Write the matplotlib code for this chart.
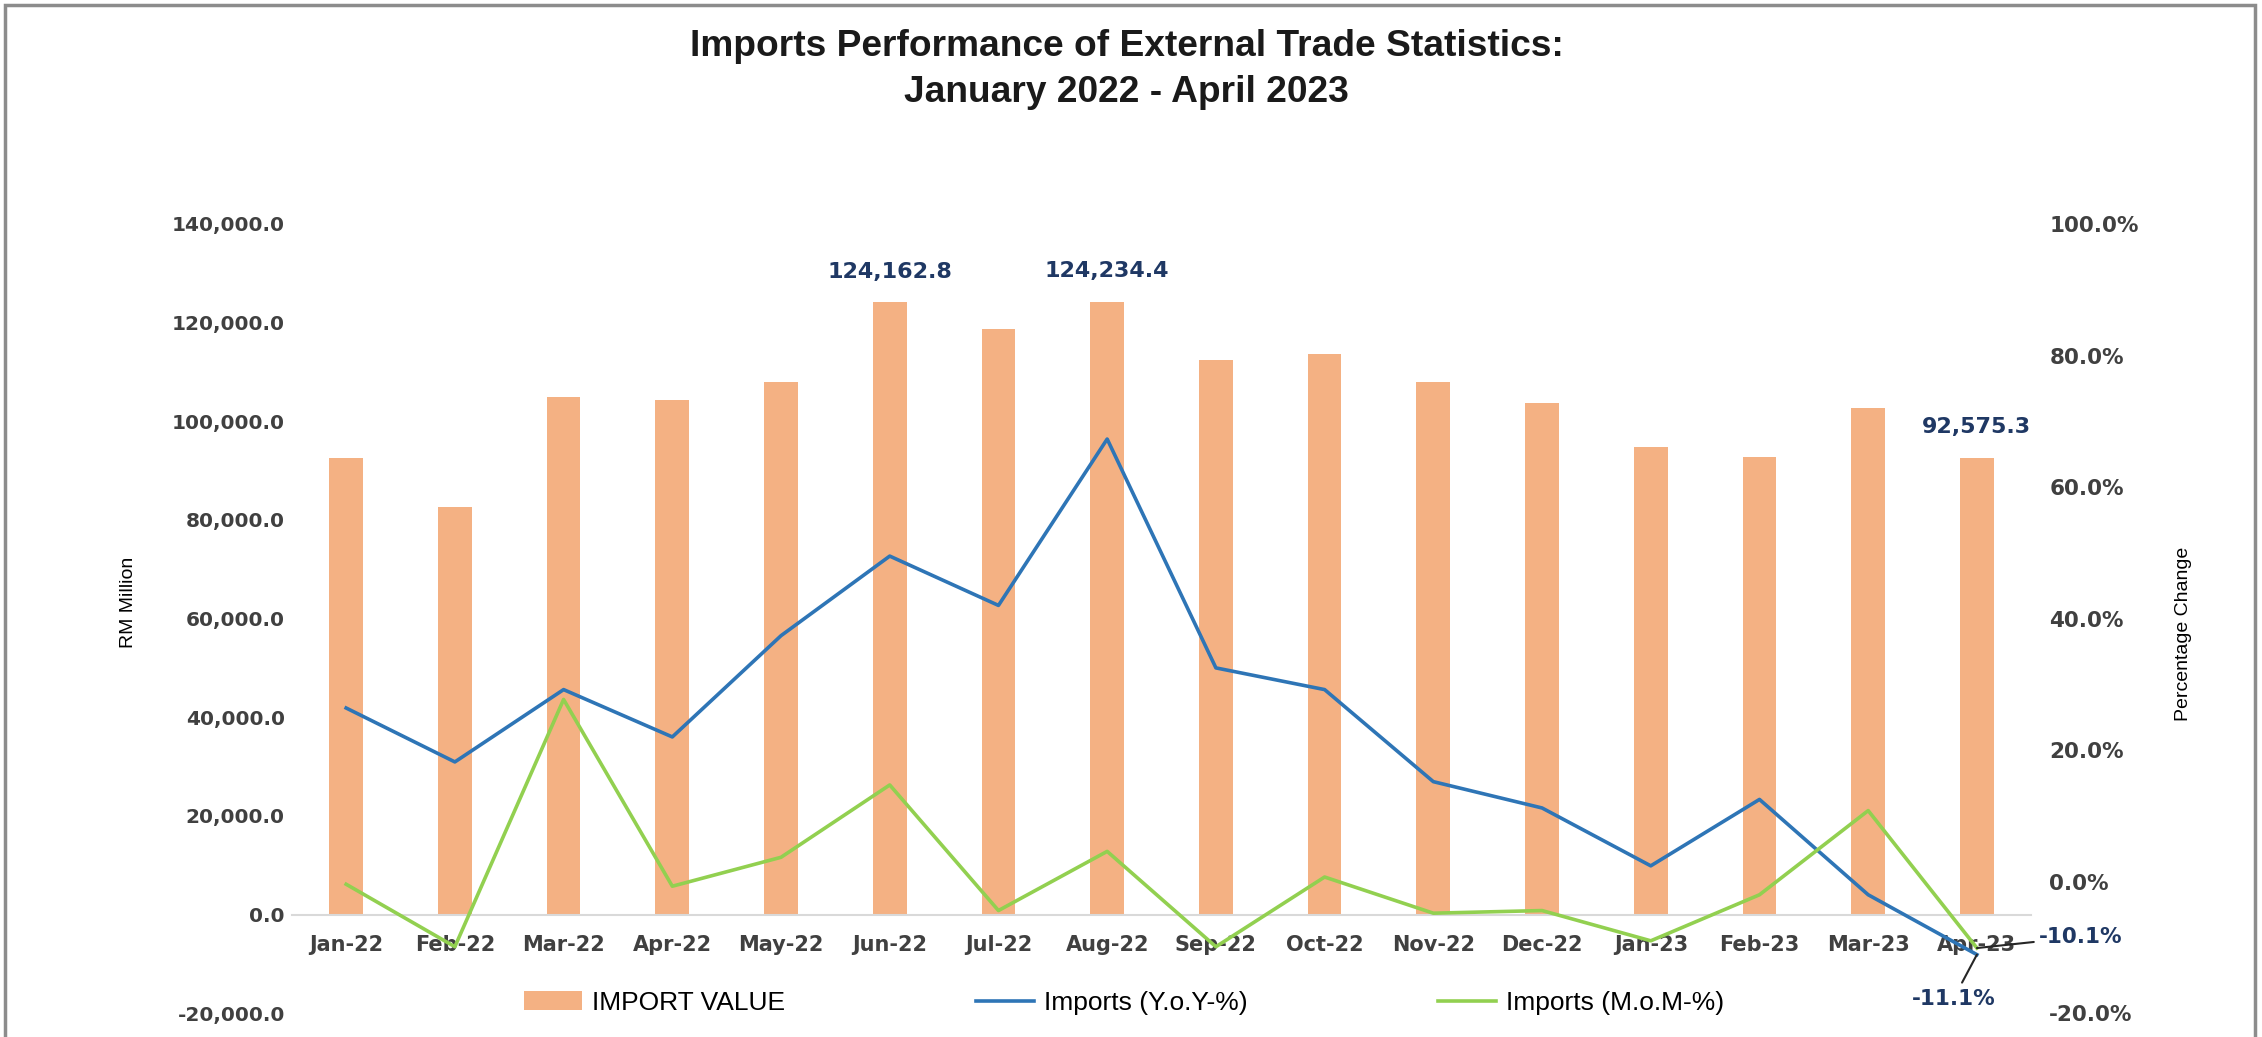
import matplotlib
matplotlib.use("Agg")
import matplotlib.pyplot as plt
from matplotlib.patches import Rectangle
from matplotlib.ticker import FuncFormatter, MultipleLocator

# data
months = ['Jan-22', 'Feb-22', 'Mar-22', 'Apr-22', 'May-22', 'Jun-22', 'Jul-22', 'Aug-22',
          'Sep-22', 'Oct-22', 'Nov-22', 'Dec-22', 'Jan-23', 'Feb-23', 'Mar-23', 'Apr-23']
import_value = [92600.0, 82700.0, 104900.0, 104300.0, 107900.0, 124162.8, 118700.0, 124234.4,
                112500.0, 113700.0, 107900.0, 103800.0, 94700.0, 92700.0, 102600.0, 92575.3]
yoy_pct = [26.4, 18.2, 29.2, 22.0, 37.4, 49.5, 42.0, 67.3,
           32.5, 29.2, 15.2, 11.2, 2.4, 12.5, -2.0, -11.1]
mom_pct = [-0.4, -9.9, 27.7, -0.7, 3.7, 14.7, -4.4, 4.6,
           -9.9, 0.7, -4.8, -4.4, -9.0, -2.0, 10.8, -10.1]
labelled_bars = ['Jun-22', 'Aug-22', 'Apr-23']

BAR = '#F4B183'
BLUE = '#2E75B6'
GREEN = '#92D050'
NAVY = '#1F3864'
TXT = '#404040'
SANS = ['Liberation Sans', 'DejaVu Sans']

fig = plt.figure(figsize=(22.62, 10.37), dpi=100)
ax = fig.add_axes([0.129, 0.023, 0.769, 0.761])
ax2 = ax.twinx()

x = list(range(len(months)))
ax.bar(x, import_value, width=0.31, color=BAR, label='IMPORT VALUE')
ax2.plot(x, yoy_pct, color=BLUE, lw=2.6, label='Imports (Y.o.Y-%)')
ax2.plot(x, mom_pct, color=GREEN, lw=2.6, label='Imports (M.o.M-%)')

ax.set_xlim(-0.5, len(months) - 0.5)
ax.set_ylim(-20000, 140000)
ax2.set_ylim(-20, 100)
ax.yaxis.set_major_locator(MultipleLocator(20000))
ax2.yaxis.set_major_locator(MultipleLocator(20))
ax.yaxis.set_major_formatter(FuncFormatter(lambda v, p: f'{v:,.1f}'))
ax2.yaxis.set_major_formatter(FuncFormatter(lambda v, p: f'{v:.1f}%'))

for a in (ax, ax2):
    for s in a.spines.values():
        s.set_visible(False)
ax.spines['bottom'].set_visible(True)
ax.spines['bottom'].set_position(('data', 0))
ax.spines['bottom'].set_color('#D9D9D9')
ax.spines['bottom'].set_linewidth(1.5)

ax.set_xticks(x)
ax.set_xticklabels(months)
ax.tick_params(axis='x', length=0, pad=15, labelsize=15, labelcolor=TXT)
ax.tick_params(axis='y', length=0, pad=5, labelsize=14.5, labelcolor=TXT)
ax2.tick_params(axis='y', length=0, pad=13, labelsize=15.5, labelcolor=TXT)
for lab in ax.get_xticklabels() + ax.get_yticklabels() + ax2.get_yticklabels():
    lab.set_fontweight('bold')

ax.set_ylabel('RM Million', family=SANS, fontsize=14, color='black', labelpad=25)
ax2.set_ylabel('Percentage Change', family=SANS, fontsize=14, color='black', labelpad=26)
ax.yaxis.label.set_y(0.52)
ax2.yaxis.label.set_y(0.48)

# data labels on selected bars
for i, m in enumerate(months):
    if m in labelled_bars:
        ax.annotate(f'{import_value[i]:,.1f}', xy=(i, import_value[i]), xytext=(0, 22),
                    textcoords='offset points', ha='center', va='center',
                    fontsize=16, fontweight='bold', color=NAVY)

# last-point labels for percentage lines
last = len(months) - 1
ax2.annotate(f'{mom_pct[last]:.1f}%', xy=(last, mom_pct[last]), xytext=(75, 8),
             textcoords='offset points', ha='center', va='center', fontsize=15.5,
             fontweight='bold', color=NAVY, annotation_clip=False,
             arrowprops=dict(arrowstyle='-', color='#262626', lw=1.5, shrinkA=2, shrinkB=0))
ax2.annotate(f'{yoy_pct[last]:.1f}%', xy=(last, yoy_pct[last]), xytext=(-17, -32),
             textcoords='offset points', ha='center', va='center', fontsize=15.5,
             fontweight='bold', color=NAVY, annotation_clip=False,
             arrowprops=dict(arrowstyle='-', color='#262626', lw=1.5, shrinkA=3, shrinkB=0))

fig.text(0.498, 0.955, 'Imports Performance of External Trade Statistics:', ha='center',
         va='center', family=SANS, fontsize=26.7, fontweight='bold', color='#1A1A1A')
fig.text(0.498, 0.911, 'January 2022 - April 2023', ha='center', va='center',
         family=SANS, fontsize=26.7, fontweight='bold', color='#1A1A1A')

h1, l1 = ax.get_legend_handles_labels()
h2, l2 = ax2.get_legend_handles_labels()
fig.legend(h1 + h2, l1 + l2, loc='center', bbox_to_anchor=(0.497, 0.033), ncol=3,
           frameon=False, prop={'family': SANS, 'size': 19}, columnspacing=7.2,
           handlelength=2.2, handletextpad=0.4)

fig.patches.append(Rectangle((0.002, -0.01), 0.995, 1.005, transform=fig.transFigure,
                             fill=False, edgecolor='#8C8C8C', lw=2.5))

fig.savefig('out.png', dpi=100)
